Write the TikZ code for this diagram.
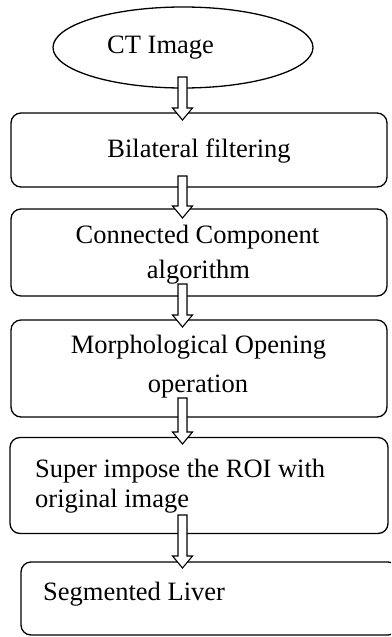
\documentclass[tikz,border=0pt]{standalone}
\usepackage{fontspec}
\setmainfont{Liberation Serif}
\usetikzlibrary{calc,shapes.geometric}
\tikzset{
  boxstyle/.style={draw, line width=1.3pt, rounded corners=10pt, inner sep=0pt},
  ovalstyle/.style={draw, line width=1.3pt, ellipse, inner sep=0pt},
  arrowline/.style={draw, fill=white, line width=1.1pt, line join=miter},
  lbl/.style={inner sep=0pt, font=\fontsize{26.5}{32}\selectfont},
}
\newcommand{\blkarrow}[2]{%
  \path[arrowline] let \p1=(#1), \p2=(#2) in
    (\x1-4.5pt,\y1) -- (\x1+4.5pt,\y1) -- (\x1+4.5pt,\y2+12pt) -- (\x1+10pt,\y2+12pt)
    -- (\x1,\y2) -- (\x1-10pt,\y2+12pt) -- (\x1-4.5pt,\y2+12pt) -- cycle;}
\begin{document}
\begin{tikzpicture}[x=1pt,y=-1pt]
\useasboundingbox (0,0) rectangle (391,637);
\begin{scope}
\clip (0,0) rectangle (391,637);
\node[ovalstyle, minimum width=260pt, minimum height=81pt] (e) at (183,47.5) {};
\node[boxstyle, minimum width=376pt, minimum height=74pt] (b1) at (199,150) {};
\node[boxstyle, minimum width=376pt, minimum height=87pt] (b2) at (199,252.5) {};
\node[boxstyle, minimum width=376pt, minimum height=97pt] (b3) at (199,368.5) {};
\node[boxstyle, minimum width=378pt, minimum height=96pt] (b4) at (199,485.5) {};
\node[boxstyle, minimum width=377pt, minimum height=73pt] (b5) at (209.5,598.5) {};

\coordinate (a1s) at (182.5,77);  \coordinate (a1t) at (182.5,120);
\coordinate (a2s) at (182.5,176); \coordinate (a2t) at (182.5,218);
\coordinate (a3s) at (182.5,284); \coordinate (a3t) at (182.5,327);
\coordinate (a4s) at (182.5,398); \coordinate (a4t) at (182.5,444);
\coordinate (a5s) at (182.5,515); \coordinate (a5t) at (182.5,568);
\blkarrow{a1s}{a1t}
\blkarrow{a2s}{a2t}
\blkarrow{a3s}{a3t}
\blkarrow{a4s}{a4t}
\blkarrow{a5s}{a5t}

\node[lbl, anchor=base west] (t0) at (107,53) {CT Image};
\node[lbl, anchor=base] (t1) at (199,157) {Bilateral filtering};
\node[lbl, anchor=base] (t2a) at (197.5,243) {Connected Component};
\node[lbl, anchor=base] (t2b) at (198.5,278) {algorithm};
\node[lbl, anchor=base] (t3a) at (198.5,353) {Morphological Opening};
\node[lbl, anchor=base] (t3b) at (198,392) {operation};
\node[lbl, anchor=base west] (t4a) at (35,477) {Super impose the ROI with};
\node[lbl, anchor=base west] (t4b) at (35,507) {original image};
\node[lbl, anchor=base west] (t5) at (43,600) {Segmented Liver};
\end{scope}
\end{tikzpicture}
\end{document}
